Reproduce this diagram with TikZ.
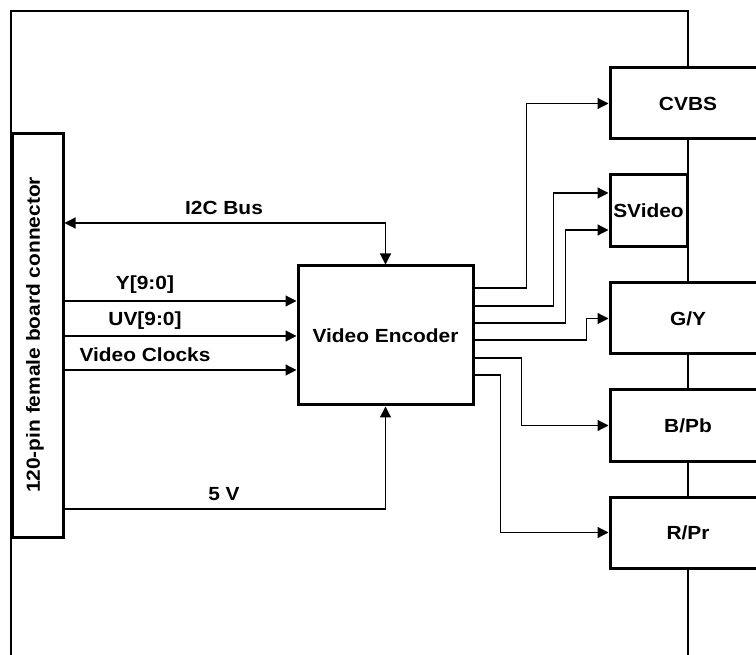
\documentclass[tikz,border=0pt]{standalone}
\usepackage{fontspec}
\setmainfont{Liberation Sans}[FakeStretch=1.1]
\usetikzlibrary{arrows.meta,calc}
\begin{document}
\begin{tikzpicture}[x=1pt,y=-1pt,
  font=\fontsize{19}{22}\selectfont\bfseries,
  box/.style={draw,line width=3pt,fill=white,inner sep=0pt,rectangle},
  board/.style={line width=2.6pt},
  wire/.style={line width=1.2pt,-{Triangle[length=11pt,width=11pt]}},
  lab/.style={inner sep=0pt}]
\useasboundingbox (0,0) rectangle (756,655);
% board outline
\coordinate (bTL) at (11,11);
\coordinate (bTR) at (688,11);
\coordinate (bBL) at (11,660);
\coordinate (bBR) at (688,660);
\draw[board] (bBL) -- (bTL) -- (bTR) -- (bBR);
% boxes
\node[box,minimum width=51pt,minimum height=403pt] (conn) at (37.5,335.5) {};
\node[rotate=90] (connlab) at (35,335) {120-pin female board connector};
\node[box,minimum width=175pt,minimum height=139pt] (enc) at (385.5,335.5) {Video Encoder};
\node[box,minimum width=156pt,minimum height=71pt] (cvbs) at (688,103.5) {};
\node (cvbslab) at (688,104) {CVBS};
\node[box,minimum width=77pt,minimum height=72pt] (sv) at (648.5,211) {SVideo};
\node[box,minimum width=156pt,minimum height=71pt] (gy) at (688,318.5) {};
\node (gylab) at (688,319) {G/Y};
\node[box,minimum width=156pt,minimum height=71pt] (bpb) at (688,425.5) {};
\node (bpblab) at (688,426) {B/Pb};
\node[box,minimum width=156pt,minimum height=71pt] (rpr) at (688,532.5) {};
\node (rprlab) at (688,533) {R/Pr};
% left-side connections
\coordinate (i2cL) at (conn.east |- 0,223);
\coordinate (yL) at (conn.east |- 0,301);
\coordinate (uvL) at (conn.east |- 0,336);
\coordinate (vcL) at (conn.east |- 0,370);
\coordinate (pwL) at (conn.east |- 0,509);
\draw[wire,{Triangle[length=11pt,width=11pt]}-{Triangle[length=11pt,width=11pt]}] (i2cL) -| (enc.north);
\draw[wire] (yL) -- (enc.west |- yL);
\draw[wire] (uvL) -- (enc.west |- uvL);
\draw[wire] (vcL) -- (enc.west |- vcL);
\draw[wire] (pwL) -| (enc.south);
\node[lab] (i2clab) at (224,208) {I2C Bus};
\node[lab] (ylab) at (145,285) {Y[9:0]};
\node[lab] (uvlab) at (145,321) {UV[9:0]};
\node[lab] (vclab) at (145,355) {Video Clocks};
\node[lab] (pwlab) at (224,494) {5 V};
% right-side connections
\coordinate (o1) at (enc.east |- 0,288);
\coordinate (o2) at (enc.east |- 0,306);
\coordinate (o3) at (enc.east |- 0,323);
\coordinate (o4) at (enc.east |- 0,340);
\coordinate (o5) at (enc.east |- 0,358);
\coordinate (o6) at (enc.east |- 0,375);
\coordinate (sv1) at ($(sv.west)+(0,-18)$);
\coordinate (sv2) at ($(sv.west)+(0,19)$);
\draw[wire] (o1) -| ($(cvbs.west)+(-82,0)$) -- (cvbs.west);
\draw[wire] (o2) -| ($(sv1)+(-55,0)$) -- (sv1);
\draw[wire] (o3) -| ($(sv2)+(-43,0)$) -- (sv2);
\draw[wire] (o4) -| ($(gy.west)+(-22,0)$) -- (gy.west);
\draw[wire] (o5) -| ($(bpb.west)+(-87,0)$) -- (bpb.west);
\draw[wire] (o6) -| ($(rpr.west)+(-108,0)$) -- (rpr.west);
\end{tikzpicture}
\end{document}
